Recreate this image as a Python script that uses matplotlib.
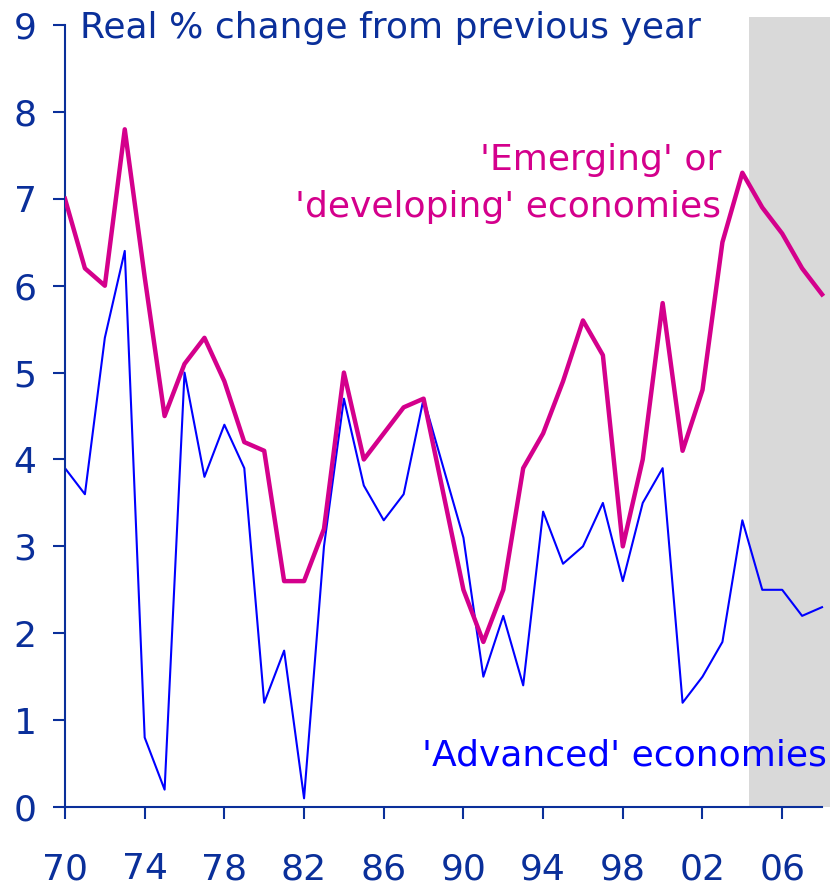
import matplotlib.pyplot as plt

years = list(range(1970, 2009))
emerging = [7.0, 6.2, 6.0, 7.8, 6.1, 4.5, 5.1, 5.4, 4.9, 4.2,
            4.1, 2.6, 2.6, 3.2, 5.0, 4.0, 4.3, 4.6, 4.7, 3.6,
            2.5, 1.9, 2.5, 3.9, 4.3, 4.9, 5.6, 5.2, 3.0, 4.0,
            5.8, 4.1, 4.8, 6.5, 7.3, 6.9, 6.6, 6.2, 5.9]
advanced = [3.9, 3.6, 5.4, 6.4, 0.8, 0.2, 5.0, 3.8, 4.4, 3.9,
            1.2, 1.8, 0.1, 3.0, 4.7, 3.7, 3.3, 3.6, 4.7, 3.9,
            3.1, 1.5, 2.2, 1.4, 3.4, 2.8, 3.0, 3.5, 2.6, 3.5,
            3.9, 1.2, 1.5, 1.9, 3.3, 2.5, 2.5, 2.2, 2.3]
xticks = [1970, 1974, 1978, 1982, 1986, 1990, 1994, 1998, 2002, 2006]
xticklabels = ["70", "74", "78", "82", "86", "90", "94", "98", "02", "06"]
forecast_start = 2004.35

NAVY = "#0a2f9a"
MAGENTA = "#d4008c"
BLUE = "#0000ff"

plt.rcParams["font.family"] = ["DejaVu Sans"]

fig = plt.figure(figsize=(8.3, 8.88), dpi=100)
ax = fig.add_axes([0.0783, 0.0912, 0.9217, 0.8806])

# shaded forecast years, runs a little above the top tick
ax.axvspan(forecast_start, 2008.4, ymin=0, ymax=1.01, color="#d9d9d9",
           lw=0, clip_on=False, zorder=0)

ax.plot(years, advanced, color=BLUE, lw=1.5, zorder=2)
ax.plot(years, emerging, color=MAGENTA, lw=3.2, zorder=3)

ax.set_xlim(1970, 2008.4)
ax.set_ylim(0, 9)
ax.set_xticks(xticks)
ax.set_xticklabels(xticklabels)
ax.set_yticks(range(0, 10))

for side in ("top", "right"):
    ax.spines[side].set_visible(False)
for side in ("left", "bottom"):
    ax.spines[side].set_color(NAVY)
    ax.spines[side].set_linewidth(1.5)
ax.spines["bottom"].set_bounds(1970, 2008)
ax.tick_params(axis="both", direction="out", length=8.5, width=1.5,
               color=NAVY, labelcolor=NAVY, labelsize=26)
ax.tick_params(axis="y", pad=12)
ax.tick_params(axis="x", pad=24)

fig.text(80 / 830, 1 - 38 / 888, "Real % change from previous year",
         color=NAVY, fontsize=26, va="baseline", ha="left")
ax.text(2002.95, 7.33, "'Emerging' or", color=MAGENTA,
        fontsize=26, ha="right", va="baseline")
ax.text(2002.95, 6.79, "'developing' economies", color=MAGENTA,
        fontsize=26, ha="right", va="baseline")
ax.text(2008.25, 0.48, "'Advanced' economies", color=BLUE, fontsize=26,
        ha="right", va="baseline")

fig.savefig("out.png", dpi=100)
